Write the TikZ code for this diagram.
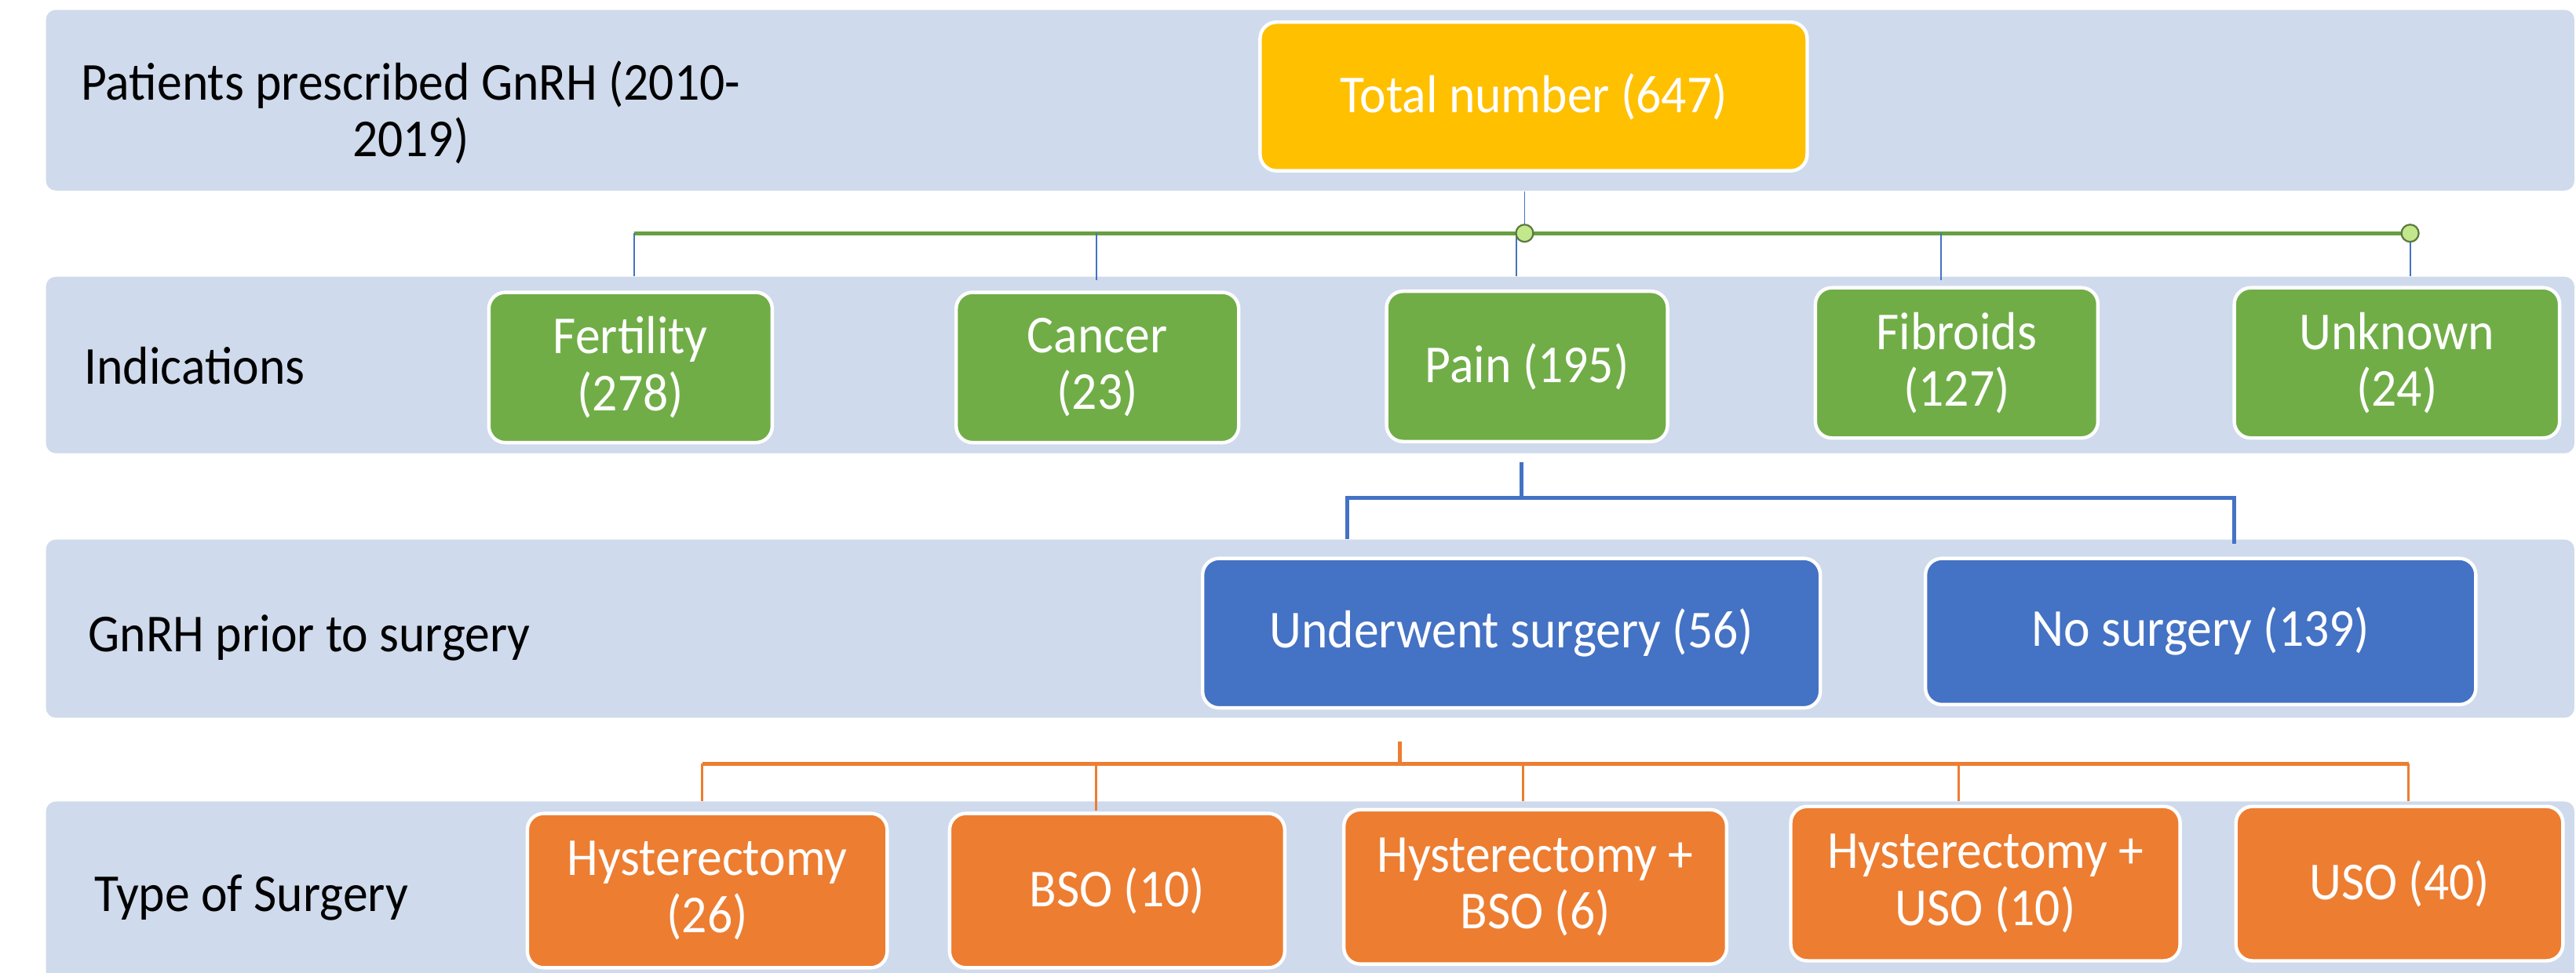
\documentclass[tikz,border=0pt]{standalone}
\usepackage{fontspec}
\setmainfont{Carlito}[FakeStretch=0.935]
\usetikzlibrary{calc}
\definecolor{bandblue}{HTML}{CFDAEC}
\definecolor{goldbox}{HTML}{FFC000}
\definecolor{greenbox}{HTML}{70AD47}
\definecolor{bluebox}{HTML}{4472C4}
\definecolor{orangebox}{HTML}{ED7D31}
\definecolor{dotfill}{HTML}{C3E88C}
\definecolor{dotline}{HTML}{5C7A3E}

\begin{document}
\begin{tikzpicture}[every node/.style={font=\fontsize{18.5}{19.7}\selectfont},
                    band/.style={fill=bandblue, rounded corners=0.12cm, inner sep=0pt, minimum width=30.78cm},
                    rowlabel/.style={inner sep=0pt, anchor=base west, text=black},
                    box/.style={draw=white, line width=1.2pt, rounded corners=0.2cm, text=white, align=center, inner sep=0pt, minimum height=1.83cm},
                    thinline/.style={draw=bluebox, line width=0.5pt},
                    greenline/.style={draw=greenbox!92!black, line width=1.3pt},
                    blueline/.style={draw=bluebox, line width=1.3pt},
                    orangeline/.style={draw=orangebox, line width=1.3pt},
                    orangedrop/.style={draw=orangebox, line width=0.8pt},
                    hub/.style={circle, fill=dotfill, draw=dotline, line width=0.6pt, minimum size=0.21cm, inner sep=0pt}]
\useasboundingbox (0,0) rectangle (31.36,11.84);

% Bands
\node[band, minimum height=2.20cm] (band1) at (15.95,10.62) {};
\node[band, minimum height=2.15cm] (band2) at (15.95,7.395) {};
\node[band, minimum height=2.17cm] (band3) at (15.95,4.185) {};
\node[band, minimum height=2.20cm] (band4) at (15.95,0.98) {};

% Row labels
\node[rowlabel, anchor=center, align=center] (lab1) at (5.0,10.47) {Patients prescribed GnRH (2010-\\2019)};
\node[rowlabel] (lab2) at (1.02,7.16) {Indications};
\node[rowlabel] (lab3) at (1.07,3.908) {GnRH prior to surgery};
\node[rowlabel] (lab4) at (1.14,0.74) {Type of Surgery};

% Total to indications
\coordinate (jL) at (7.72,9.00);
\coordinate (jA) at (18.56,9.00);
\coordinate (jF) at (23.63,9.00);
\coordinate (jB) at (29.34,9.00);
\draw[thinline] (band1.south -| jA) -- (jA);
\draw[greenline] (jL) -- (jB);
\draw[thinline] (jL) -- (jL |- band2.north);
\draw[thinline] (13.35,9.00) -- (13.35,8.43);
\draw[thinline] ([xshift=-0.1cm]jA) -- ([xshift=-0.1cm]jA |- band2.north);
\draw[thinline] (jF) -- (23.63,8.43);
\draw[thinline] (jB) -- (jB |- band2.north);
\node[hub] (hubA) at (jA) {};
\node[hub] (hubB) at (jB) {};

% Pain to surgery
\coordinate (kP) at (18.52,5.78);
\coordinate (kL) at (16.40,5.78);
\coordinate (kR) at (27.20,5.78);
\draw[blueline] ($(band2.south -| kP)+(0,-0.1)$) -- (kP);
\draw[blueline] (kL |- band3.north) -- (kL) -- (kR) -- ($(kR |- band3.north)+(0,-0.06)$);

% Surgery to type of surgery
\coordinate (mU) at (17.04,2.54);
\coordinate (mL) at (8.55,2.54);
\coordinate (mB) at (13.34,2.54);
\coordinate (mH) at (18.54,2.54);
\coordinate (mS) at (23.84,2.54);
\coordinate (mR) at (29.32,2.54);
\draw[orangeline] ($(band3.south -| mU)+(0,-0.28)$) -- (mU);
\draw[orangeline] (mL) -- (mR);
\foreach \c in {mL,mH,mS,mR} {
    \draw[orangedrop] (\c) -- (\c |- band4.north);
}
\draw[orangedrop] (mB) -- (13.34,1.97);

% Row 1
\node[box, fill=goldbox, minimum width=6.66cm, minimum height=1.81cm] (total) at (18.67,10.665) {Total number (647)};

% Row 2
\foreach \name/\x/\y/\w/\txt in {fert/7.676/7.365/3.45/{Fertility\\(278)},
                                  canc/13.36/7.365/3.44/{Cancer\\(23)},
                                  pain/18.59/7.378/3.42/{Pain (195)},
                                  fib/23.82/7.421/3.44/{Fibroids\\(127)},
                                  unk/29.18/7.421/3.96/{Unknown\\(24)}} {
    \node[box, fill=greenbox, minimum width=\w cm] (\name) at (\x,\y) {\txt};
}

% Row 3
\node[box, fill=bluebox, minimum width=7.52cm, minimum height=1.82cm] (under) at (18.40,4.13) {Underwent surgery (56)};
\node[box, fill=bluebox, minimum width=6.70cm, minimum height=1.78cm] (nosurg) at (26.79,4.15) {No surgery (139)};

% Row 4
\foreach \name/\x/\y/\w/\txt in {hyst/8.61/0.995/4.38/{Hysterectomy\\(26)},
                                  bso/13.60/0.995/4.08/{BSO (10)},
                                  hbso/18.69/1.04/4.66/{Hysterectomy +\\BSO (6)},
                                  huso/24.17/1.08/4.74/{Hysterectomy +\\USO (10)},
                                  uso/29.21/1.08/3.98/{USO (40)}} {
    \node[box, fill=orangebox, minimum width=\w cm, minimum height=1.88cm] (\name) at (\x,\y) {\txt};
}

\end{tikzpicture}
\end{document}
